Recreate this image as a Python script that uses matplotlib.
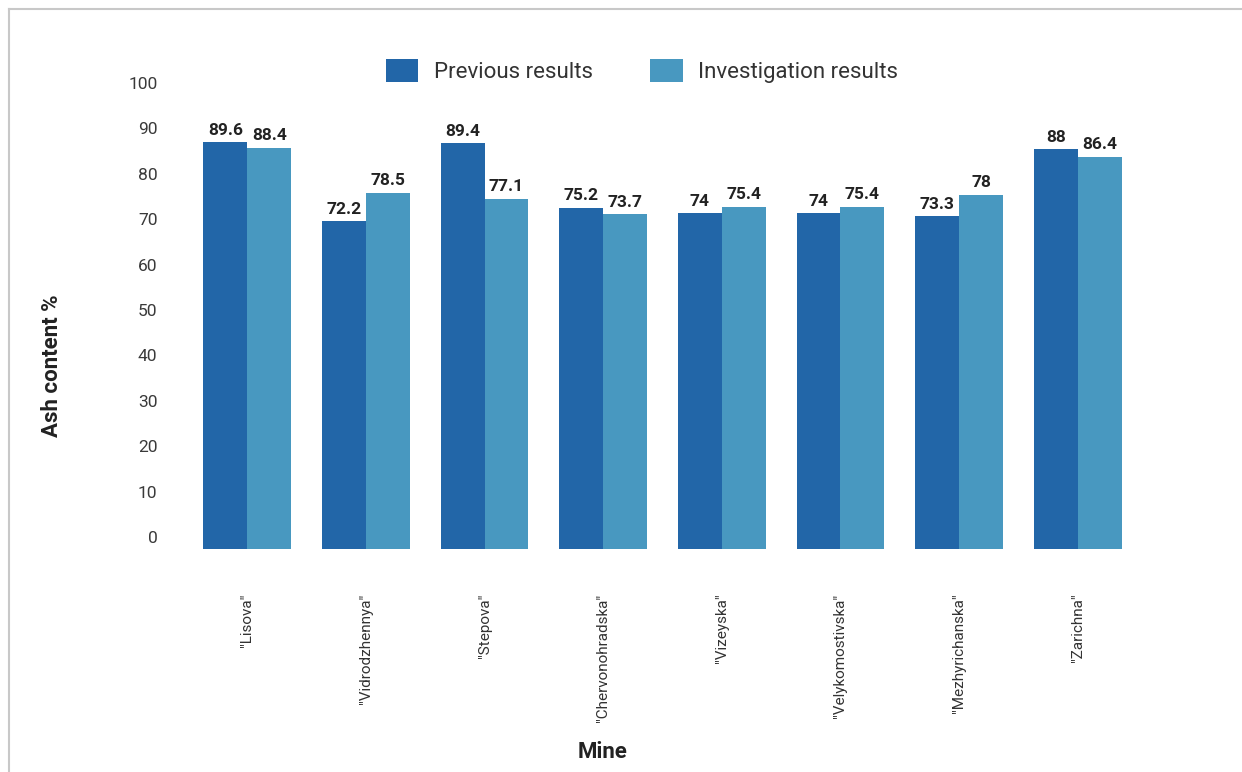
import matplotlib
matplotlib.use("Agg")
import matplotlib.pyplot as plt
import matplotlib.transforms as mtransforms
from matplotlib.lines import Line2D
import numpy as np

mines = ['"Lisova"', '"Vidrodzhennya"', '"Stepova"', '"Chervonohradska"',
         '"Vizeyska"', '"Velykomostivska"', '"Mezhyrichanska"', '"Zarichna"']
previous = [89.6, 72.2, 89.4, 75.2, 74, 74, 73.3, 88]
investigation = [88.4, 78.5, 77.1, 73.7, 75.4, 75.4, 78, 86.4]
prev_labels = ["89.6", "72.2", "89.4", "75.2", "74", "74", "73.3", "88"]
inv_labels = ["88.4", "78.5", "77.1", "73.7", "75.4", "75.4", "78", "86.4"]
yticks = [0, 10, 20, 30, 40, 50, 60, 70, 80, 90, 100]

plt.rcParams['font.family'] = ['Roboto', 'DejaVu Sans']

W, H = 1242, 772
fig = plt.figure(figsize=(W / 100, H / 100), dpi=100)
ax = fig.add_axes([188 / W, 1 - 549 / H, (1137 - 188) / W, (549 - 95) / H])

x = np.arange(len(mines))
bw = 0.37
c_prev = "#2266a8"
c_inv = "#4898c0"
b1 = ax.bar(x - bw / 2, previous, bw, color=c_prev, label="Previous results")
b2 = ax.bar(x + bw / 2, investigation, bw, color=c_inv, label="Investigation results")

for xi, v, t in zip(x, previous, prev_labels):
    ax.text(xi - bw / 2, v + 1.0, t, ha="center", va="bottom",
            fontsize=12.5, fontweight="bold", color="#222222")
for xi, v, t in zip(x, investigation, inv_labels):
    ax.text(xi + bw / 2, v + 1.0, t, ha="center", va="bottom",
            fontsize=12.5, fontweight="bold", color="#222222")

ax.set_xlim(-0.5, len(mines) - 0.5)
ax.set_ylim(0, 100)
ax.set_yticks(yticks)
ax.set_yticklabels([str(t) for t in yticks], fontsize=12.5, color="#3a3a3a")
ax.set_xticks(x)
ax.set_xticklabels(mines, rotation=90, fontsize=11, color="#333333",
                   va="top", ha="center")
ax.tick_params(axis="both", length=0)
ax.tick_params(axis="y", pad=22)
ax.tick_params(axis="x", pad=32)

# y tick labels are shifted upward in the reference
offset = mtransforms.ScaledTranslation(0, 12 / 100, fig.dpi_scale_trans)
for lbl in ax.get_yticklabels():
    lbl.set_transform(lbl.get_transform() + offset)

for s in ax.spines.values():
    s.set_visible(False)

fig.text(52 / W, 1 - 366 / H, "Ash content %", rotation=90, ha="center",
         va="center", fontsize=16, fontweight="bold", color="#222222")
fig.text(603 / W, 1 - 752 / H, "Mine", ha="center", va="center",
         fontsize=16, fontweight="bold", color="#222222")

leg = fig.legend(handles=[b1, b2], loc="center", bbox_to_anchor=(642 / W, 1 - 71 / H),
                 ncol=2, frameon=False, fontsize=16, handlelength=1.45,
                 handleheight=1.25, handletextpad=0.7, columnspacing=2.6)
for t in leg.get_texts():
    t.set_color("#333333")

# thin frame on top and left
fig.add_artist(Line2D([8.5 / W, 1], [1 - 8.5 / H, 1 - 8.5 / H], color="#c8c8c8",
                      lw=1.5, transform=fig.transFigure))
fig.add_artist(Line2D([9 / W, 9 / W], [0, 1 - 8.5 / H], color="#c8c8c8",
                      lw=1.5, transform=fig.transFigure))

fig.savefig("out.png", dpi=100)
